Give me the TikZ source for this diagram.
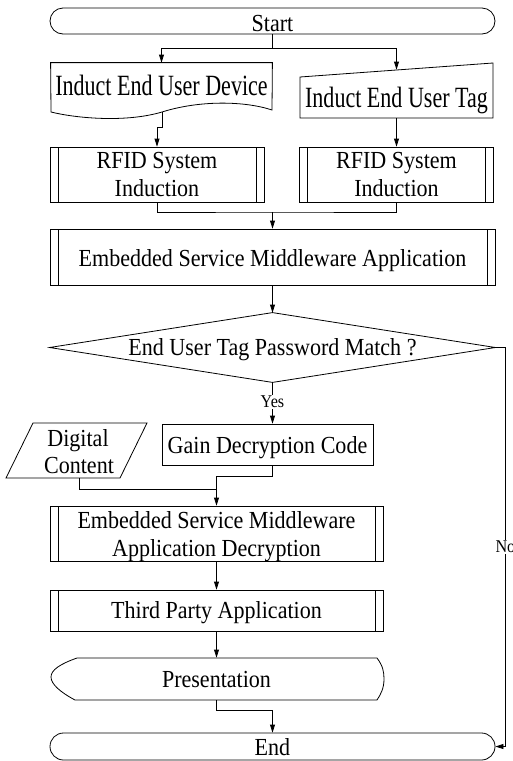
\documentclass[tikz,border=0pt]{standalone}
\usepackage{fontspec}
\usepackage{graphicx}
\setmainfont{Liberation Serif}[FakeStretch=0.9]
\usetikzlibrary{arrows.meta,shapes.misc}

\begin{document}
\begin{tikzpicture}[x=1pt,y=-1pt,
  line width=0.8pt,
  arr/.style={-{Stealth[length=8pt,width=5pt,inset=0pt]}},
  frame/.style={rectangle, draw, inner sep=0pt},
  ghost/.style={rectangle, inner sep=0pt},
  proc/.style={frame, path picture={
     \draw ([xshift=8pt]path picture bounding box.north west) -- ([xshift=8pt]path picture bounding box.south west);
     \draw ([xshift=-8pt]path picture bounding box.north east) -- ([xshift=-8pt]path picture bounding box.south east);}},
  term/.style={rounded rectangle, draw, inner sep=0pt},
  txt/.style={anchor=base, inner sep=0pt, font=\fontsize{24.5}{28}\selectfont},
  lbl/.style={fill=white, inner sep=1.5pt, font=\fontsize{18}{20}\selectfont}]

\useasboundingbox (0,0) rectangle (512,761);

% ---- shapes ----
\node[term, minimum width=445pt, minimum height=26pt] (start) at (272.5,21) {};

\node[ghost, minimum width=221pt, minimum height=56pt] (dev) at (161.5,91) {};
\draw (dev.north west) -- (dev.north east) -- (272,110)
      .. controls (245,101) and (200,100) .. (162,112)
      .. controls (125,123) and (75,118) .. (51,112) -- cycle;
\coordinate (devout) at (162,112);

\node[ghost, minimum width=193pt, minimum height=55pt] (tag) at (396.5,90.5) {};
\draw (300,77) -- (493,63) -- (493,118) -- (300,118) -- cycle;

\node[proc, minimum width=214pt, minimum height=55pt] (rfidL) at (157,174.5) {};
\node[proc, minimum width=194pt, minimum height=55pt] (rfidR) at (396.5,174.5) {};
\node[proc, minimum width=445pt, minimum height=56pt] (esm) at (272.5,257) {};

\node[ghost, minimum width=445pt, minimum height=69pt] (dm) at (272.5,347.5) {};
\draw (dm.west) -- (dm.north) -- (dm.east) -- (dm.south) -- cycle;

\node[frame, minimum width=211pt, minimum height=41pt] (gain) at (267.5,444.5) {};

\node[ghost, minimum width=141pt, minimum height=55pt] (dc) at (76.5,450.5) {};
\draw (33,423) -- (147,423) -- (120,478) -- (6,478) -- cycle;

\node[proc, minimum width=333pt, minimum height=55pt] (dec) at (216.5,533.5) {};
\node[proc, minimum width=333pt, minimum height=41pt] (tpa) at (216.5,610.5) {};

\node[ghost, minimum width=333pt, minimum height=42pt] (pres) at (216.5,679) {};
\draw (77,658) -- (377,658)
      .. controls (383,666) and (384,672) .. (384,679)
      .. controls (384,688) and (381,694) .. (377,700)
      -- (75,700)
      .. controls (60,692) and (51,684) .. (51,677)
      .. controls (51,670) and (60,664) .. (77,658) -- cycle;

\node[term, minimum width=445pt, minimum height=27pt] (end) at (272.5,746.5) {};

% ---- texts ----
\node[txt] (tStart) at (272.5,31) {Start};
\node[txt] (tDev) at (161.5,95) {\scalebox{1}[1.2]{Induct End User Device}};
\node[txt] (tTag) at (396.5,107) {\scalebox{1}[1.2]{Induct End User Tag}};
\node[txt] (tRL1) at (157,168) {RFID System};
\node[txt] (tRL2) at (157,196) {Induction};
\node[txt] (tRR1) at (396.5,168) {RFID System};
\node[txt] (tRR2) at (396.5,196) {Induction};
\node[txt] (tEsm) at (272.5,266) {Embedded Service Middleware Application};
\node[txt] (tDm) at (272.5,355) {End User Tag Password Match ?};
\node[txt] (tGain) at (267.5,453) {Gain Decryption Code};
\node[txt] (tDc1) at (78,446) {Digital};
\node[txt] (tDc2) at (79,473) {Content};
\node[txt] (tDec1) at (216.5,528) {Embedded Service Middleware};
\node[txt] (tDec2) at (216.5,556) {Application Decryption};
\node[txt] (tTpa) at (216.5,618) {Third Party Application};
\node[txt] (tPres) at (216.5,687) {Presentation};
\node[txt] (tEnd) at (272.5,755) {End};

% ---- connectors ----
\coordinate (split) at (272.5,48);
\draw (start.south) -- (split);
\draw[arr] (split) -| (dev.north);
% the slanted top of the manual-input shape lies 7pt below its bounding box
\draw[arr, shorten >=-7pt] (split) -| (tag.north);
\draw[arr] (devout) -- (162,127) -| (rfidL.north);
\draw[arr] (tag.south) -- (rfidR.north);

\coordinate (merge) at (272.5,212);
\draw (rfidL.south) |- (merge) -| (rfidR.south);
\draw[arr] (merge) -- (esm.north);
\draw[arr] (esm.south) -- (dm.north);

\draw[arr] (dm.south) -- node[lbl, pos=0.476] (yes) {Yes} (dm.south |- gain.north);

\coordinate (joinA) at (216.5,476);
\draw ([xshift=5pt]gain.south) |- (joinA);
\draw ([xshift=2.5pt]dc.south) |- (216.5,489);
\draw[arr] (joinA) -- (dec.north);
\draw[arr] (dec.south) -- (tpa.north);
\draw[arr] (tpa.south) -- (pres.north);
\draw[arr] (pres.south) -- ++(0,10) -| (end.north);

\draw[arr] (dm.east) -- ++(10,0) |- node[lbl, pos=0.25] (no) {No} (end.east);
\end{tikzpicture}
\end{document}
